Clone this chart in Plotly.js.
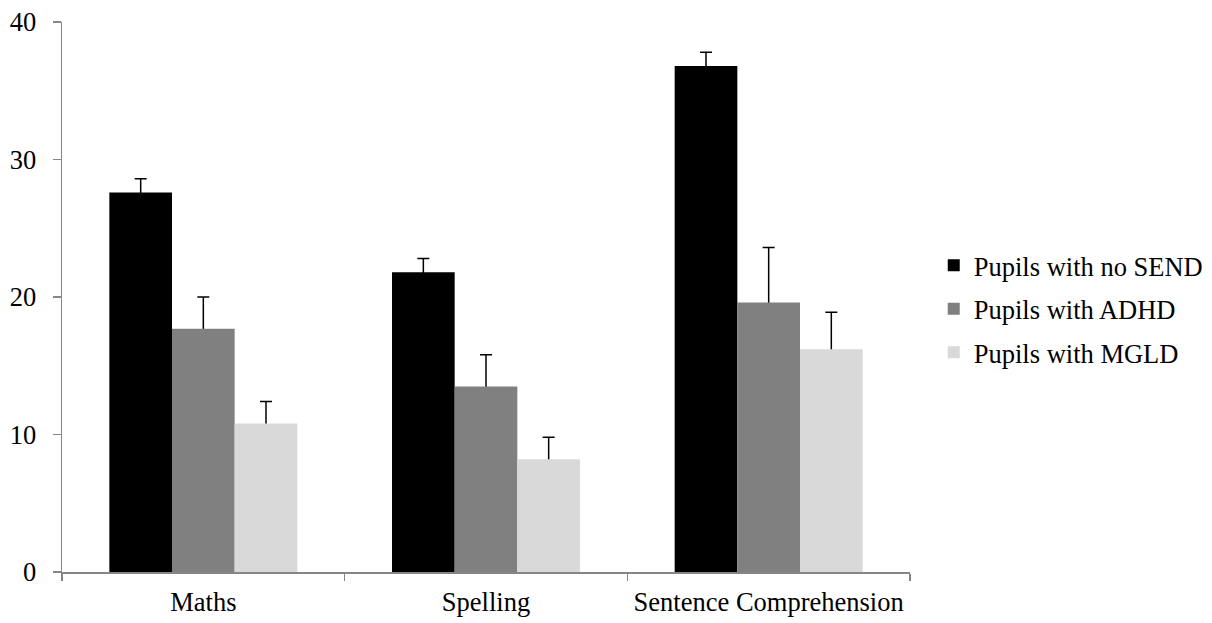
<!DOCTYPE html>
<html>
<head>
<meta charset="utf-8">
<script src="https://cdn.plot.ly/plotly-3.0.1.min.js"></script>
<style>html,body{margin:0;padding:0;background:#fff;}#chart{width:1212px;height:623px;}</style>
</head>
<body>
<div id="chart"></div>
<script>
const categories = ["Maths", "Spelling", "Sentence Comprehension"];
const seriesNames = ["Pupils with no SEND", "Pupils with ADHD", "Pupils with MGLD"];
const noSend = [27.6, 21.8, 36.8];
const noSendErr = [1.0, 1.0, 1.0];
const adhd = [17.7, 13.5, 19.6];
const adhdErr = [2.3, 2.3, 4.0];
const mgld = [10.8, 8.2, 16.2];
const mgldErr = [1.6, 1.6, 2.7];
const colors = ["#000000", "#808080", "#d9d9d9"];
const yTicks = [0, 10, 20, 30, 40];

const values = [noSend, adhd, mgld];
const errs = [noSendErr, adhdErr, mgldErr];

const FONT = '"Liberation Serif", Tinos, "Times New Roman", "DejaVu Serif", serif';
const FS = 26.5;

// error-bar carriers (drawn first, so their lower cap is hidden under the visible bar)
const carriers = values.map((v, i) => ({
  type: "bar",
  x: categories,
  y: v,
  offsetgroup: "s" + i,
  showlegend: false,
  hoverinfo: "skip",
  marker: {color: "rgba(0,0,0,0)", line: {width: 0}},
  error_y: {
    type: "data",
    symmetric: false,
    array: errs[i],
    arrayminus: errs[i].map(() => 0.2),
    color: "#000000",
    thickness: 1.5,
    width: 6
  }
}));

const bars = values.map((v, i) => ({
  type: "bar",
  name: seriesNames[i],
  x: categories,
  y: v,
  offsetgroup: "s" + i,
  marker: {color: colors[i], line: {width: 0}},
  legendgroup: "g" + i
}));

const layout = {
  width: 1212,
  height: 623,
  margin: {l: 62, r: 302, t: 22, b: 51, pad: 0, autoexpand: false},
  paper_bgcolor: "#ffffff",
  plot_bgcolor: "#ffffff",
  font: {family: FONT, size: FS, color: "#000000"},
  barmode: "group",
  bargap: 0.335,
  bargroupgap: 0,
  showlegend: true,
  legend: {
    x: 1.028, xanchor: "left", y: 0.478, yanchor: "middle",
    font: {family: FONT, size: FS, color: "#000000"},
    traceorder: "grouped",
    tracegroupgap: 6,
    itemwidth: 30,
    bgcolor: "rgba(0,0,0,0)"
  },
  xaxis: {
    type: "category",
    range: [-0.5, 2.5],
    showline: true,
    linecolor: "#868686",
    linewidth: 1.5,
    ticks: "outside",
    tickson: "boundaries",
    ticklen: 7,
    tickcolor: "#868686",
    tickwidth: 1.5,
    showgrid: false,
    zeroline: false,
    automargin: false,
    tickfont: {family: FONT, size: FS, color: "#000000"},
    ticklabelstandoff: 6
  },
  yaxis: {
    range: [0, 40],
    tickvals: yTicks,
    ticktext: yTicks.map(String),
    showline: true,
    linecolor: "#868686",
    linewidth: 1.5,
    ticks: "outside",
    ticklen: 8,
    tickcolor: "#868686",
    tickwidth: 1.5,
    showgrid: false,
    zeroline: false,
    automargin: false,
    tickfont: {family: FONT, size: FS, color: "#000000"},
    ticklabelstandoff: 11
  }
};

Plotly.newPlot("chart", carriers.concat(bars), layout, {displayModeBar: false, staticPlot: true});
</script>
</body>
</html>
